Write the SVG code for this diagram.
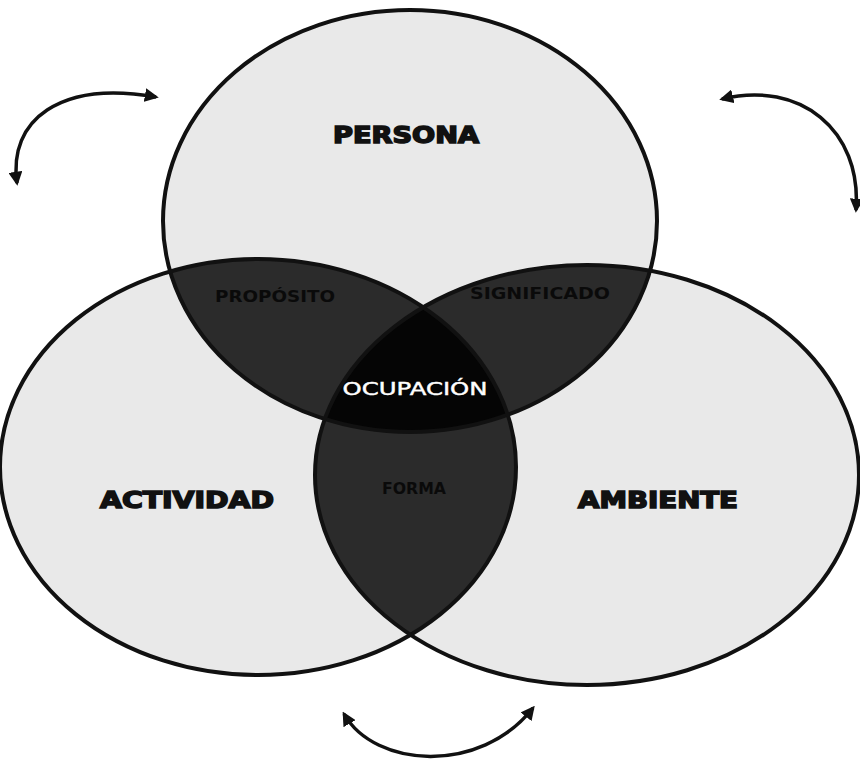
<svg xmlns="http://www.w3.org/2000/svg" width="860" height="766" viewBox="0 0 860 766">
<style>
.fillL{fill:#e9e9e9}
.dark{fill:#2b2b2b}
.core{fill:#050505}
.edge{fill:none;stroke:#111;stroke-width:4}
.lbl{font-family:"DejaVu Sans",Verdana,sans-serif;font-weight:900;fill:#111;stroke:#111;stroke-width:1.6;font-size:23px}
.dlbl{font-family:"DejaVu Sans",Verdana,sans-serif;font-weight:bold;fill:#0a0a0a;font-size:15px}
.wlbl{font-family:"DejaVu Sans",Verdana,sans-serif;fill:#fff;font-size:17px;stroke:#fff;stroke-width:0.4}
.arc{fill:none;stroke:#111;stroke-width:3.5}
</style>
<defs>
<clipPath id="cP"><ellipse cx="410" cy="221" rx="247" ry="211"/></clipPath>
<clipPath id="cA"><ellipse cx="258" cy="467" rx="258" ry="208"/></clipPath>
<marker id="ah" viewBox="0 0 10 10" refX="8" refY="5" markerWidth="4" markerHeight="4" orient="auto-start-reverse" markerUnits="strokeWidth">
<path d="M0,0 L10,5 L0,10 z" fill="#111"/>
</marker>
</defs>
<g id="persona">
<ellipse class="fillL" cx="410" cy="221" rx="247" ry="211"/>
</g>
<g id="actividad">
<ellipse class="fillL" cx="258" cy="467" rx="258" ry="208"/>
</g>
<g id="ambiente">
<ellipse class="fillL" cx="587" cy="475" rx="272" ry="210"/>
</g>
<g id="proposito">
<ellipse class="dark" cx="258" cy="467" rx="258" ry="208" clip-path="url(#cP)"/>
</g>
<g id="significado">
<ellipse class="dark" cx="587" cy="475" rx="272" ry="210" clip-path="url(#cP)"/>
</g>
<g id="forma">
<ellipse class="dark" cx="587" cy="475" rx="272" ry="210" clip-path="url(#cA)"/>
</g>
<g id="ocupacion">
<g clip-path="url(#cP)">
<ellipse class="core" cx="587" cy="475" rx="272" ry="210" clip-path="url(#cA)"/>
</g>
</g>
<g id="outlines">
<ellipse class="edge" cx="410" cy="221" rx="247" ry="211"/>
<ellipse class="edge" cx="258" cy="467" rx="258" ry="208"/>
<ellipse class="edge" cx="587" cy="475" rx="272" ry="210"/>
</g>
<g id="labels">
<text class="lbl" x="406" y="143" text-anchor="middle" textLength="146" lengthAdjust="spacingAndGlyphs">PERSONA</text>
<text class="lbl" x="187" y="508" text-anchor="middle" textLength="174" lengthAdjust="spacingAndGlyphs">ACTIVIDAD</text>
<text class="lbl" x="658" y="508" text-anchor="middle" textLength="160" lengthAdjust="spacingAndGlyphs">AMBIENTE</text>
<text class="dlbl" x="275" y="302" text-anchor="middle" textLength="120" lengthAdjust="spacingAndGlyphs">PROPÓSITO</text>
<text class="dlbl" x="540" y="299" text-anchor="middle" textLength="140" lengthAdjust="spacingAndGlyphs">SIGNIFICADO</text>
<text class="dlbl" x="414" y="494" text-anchor="middle" textLength="64" lengthAdjust="spacingAndGlyphs">FORMA</text>
<text class="wlbl" x="415" y="395" text-anchor="middle" textLength="145" lengthAdjust="spacingAndGlyphs">OCUPACIÓN</text>
</g>
<g id="connectors">
<path class="arc" d="M17,183 C8,120 60,80 156,97" marker-start="url(#ah)" marker-end="url(#ah)"/>
<path class="arc" d="M722,99 C800,80 862,130 856,210" marker-start="url(#ah)" marker-end="url(#ah)"/>
<path class="arc" d="M344,714 C375,768 480,775 533,708" marker-start="url(#ah)" marker-end="url(#ah)"/>
</g>
</svg>
